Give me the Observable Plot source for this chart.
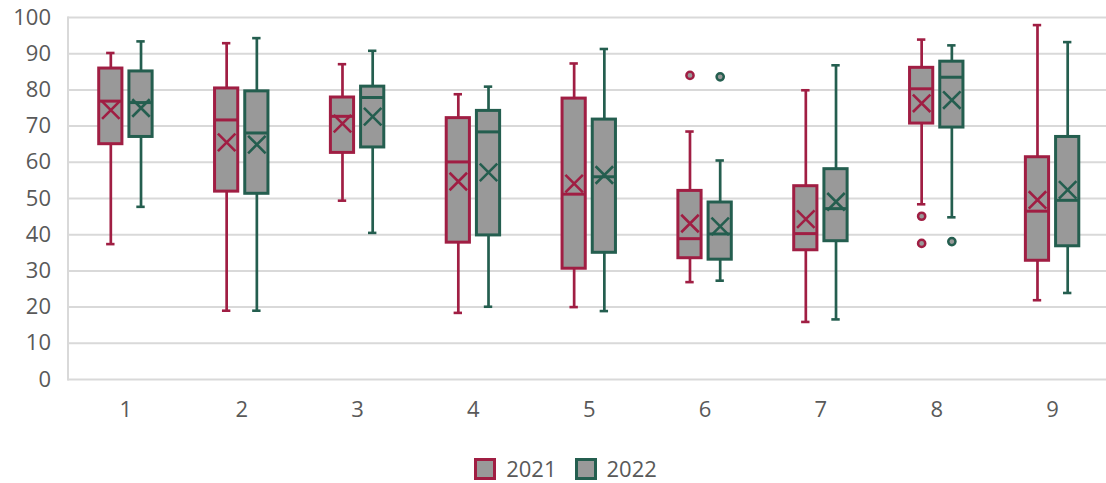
<!DOCTYPE html>
<html><head><meta charset="utf-8">
<script src="https://cdn.jsdelivr.net/npm/d3@7"></script>
<script src="https://cdn.jsdelivr.net/npm/@observablehq/plot@0.6"></script>
<style>
body{margin:0;background:#fff;font-family:"Open Sans",sans-serif;overflow:hidden}
#chart svg{display:block}
.legend{display:flex;justify-content:center;align-items:center;margin-top:17px;padding-left:25px;font-size:22px;color:#595959;height:23px;line-height:23px}
.item{display:flex;align-items:center;margin:0 9px}
.sw{width:22px;height:22px;box-sizing:border-box;border:3px solid;background:#999;margin-right:10px}
</style></head><body>
<div id="chart"></div>
<div class="legend" id="legend"></div>
<script>
const categories = ["1","2","3","4","5","6","7","8","9"];
const seriesNames = ["2021","2022"];
const yTicks = [0,10,20,30,40,50,60,70,80,90,100];

const min2021    = [37.4, 19.0, 49.4, 18.4, 20.0, 26.9, 15.9, 48.4, 21.9];
const q1_2021    = [65.0, 51.9, 62.6, 37.8, 30.6, 33.5, 35.7, 70.7, 32.8];
const median2021 = [76.9, 71.7, 72.7, 60.1, 51.2, 38.9, 40.3, 80.3, 46.5];
const q3_2021    = [85.9, 80.4, 77.9, 72.2, 77.6, 52.1, 53.4, 86.1, 61.4];
const max2021    = [90.2, 92.9, 87.1, 78.8, 87.3, 68.5, 79.9, 93.9, 97.9];
const mean2021   = [74.4, 65.5, 70.7, 54.7, 54.1, 43.1, 44.3, 76.3, 49.6];
const outlierCat2021 = ["6","8","8"];
const outlierVal2021 = [84.0, 45.1, 37.6];

const min2022    = [47.7, 19.0, 40.5, 20.1, 18.9, 27.3, 16.6, 44.8, 23.9];
const q1_2022    = [67.0, 51.3, 64.1, 39.8, 35.0, 33.1, 38.2, 69.6, 36.8];
const median2022 = [76.5, 68.1, 77.9, 68.4, 56.0, 40.2, 47.2, 83.5, 49.5];
const q3_2022    = [85.1, 79.6, 80.9, 74.2, 71.8, 48.9, 58.1, 87.8, 67.0];
const max2022    = [93.4, 94.3, 90.8, 80.9, 91.3, 60.5, 86.8, 92.3, 93.2];
const mean2022   = [75.0, 64.9, 72.6, 57.2, 56.5, 42.3, 49.1, 77.2, 52.4];
const outlierCat2022 = ["6","8"];
const outlierVal2022 = [83.6, 38.1];

const colors = {"2021": "#A01E43", "2022": "#245E4F"};
const boxFill = "#999999";

function rowsOf(mins, q1s, meds, q3s, maxs, means) {
  return categories.map((cat, i) => ({cat, min: mins[i], q1: q1s[i], median: meds[i], q3: q3s[i], max: maxs[i], mean: means[i]}));
}
const rows2021 = rowsOf(min2021, q1_2021, median2021, q3_2021, max2021, mean2021);
const rows2022 = rowsOf(min2022, q1_2022, median2022, q3_2022, max2022, mean2022);
const out2021 = outlierCat2021.map((cat, i) => ({cat, value: outlierVal2021[i]}));
const out2022 = outlierCat2022.map((cat, i) => ({cat, value: outlierVal2022[i]}));

const W = 1106, ML = 67.5, MR = -4;
const bw = (W - MR - ML) / categories.length;

function seriesMarks(rows, outliers, color, side) {
  const off = 15.1, half = 11.6, cap = 4.2;
  const bL = bw/2 + side*off - half, bR = bw/2 - side*off - half;
  const cL = bw/2 + side*off - cap, cR = bw/2 - side*off - cap;
  return [
    Plot.ruleX(rows, {x: "cat", y1: "min", y2: "max", dx: side*off, stroke: color, strokeWidth: 2.7}),
    Plot.tickY(rows, {x: "cat", y: "min", insetLeft: cL, insetRight: cR, stroke: color, strokeWidth: 2.6}),
    Plot.tickY(rows, {x: "cat", y: "max", insetLeft: cL, insetRight: cR, stroke: color, strokeWidth: 2.6}),
    Plot.barY(rows, {x: "cat", y1: "q1", y2: "q3", insetLeft: bL, insetRight: bR, fill: boxFill, stroke: color, strokeWidth: 3}),
    Plot.tickY(rows, {x: "cat", y: "median", insetLeft: bL, insetRight: bR, stroke: color, strokeWidth: 3}),
    Plot.dot(rows, {x: "cat", y: "mean", dx: side*off, symbol: "times", r: 8, stroke: color, strokeWidth: 2.6}),
    Plot.dot(outliers, {x: "cat", y: "value", dx: side*off, r: 3.6, fill: boxFill, stroke: color, strokeWidth: 2.5})
  ];
}

const chart = Plot.plot({
  width: W,
  height: 440,
  marginLeft: ML,
  marginRight: MR,
  marginTop: 17,
  marginBottom: 61,
  style: {fontFamily: "'Open Sans', sans-serif", fontSize: "22px", color: "#595959", background: "#fff", overflow: "hidden"},
  x: {domain: categories, padding: 0, round: false},
  y: {domain: [0, 100]},
  marks: [
    Plot.gridY(yTicks, {stroke: "#d9d9d9", strokeOpacity: 1, strokeWidth: 2}),
    Plot.frame({anchor: "left", stroke: "#d9d9d9", strokeWidth: 2}),
    Plot.axisY(yTicks, {tickSize: 0, tickPadding: 17, fontSize: 22, fill: "#595959", label: null}),
    Plot.axisX({tickSize: 0, tickPadding: 22, fontSize: 22, fill: "#595959", label: null}),
    ...seriesMarks(rows2021, out2021, colors["2021"], -1),
    ...seriesMarks(rows2022, out2022, colors["2022"], 1)
  ]
});
document.getElementById("chart").appendChild(chart);

const legend = document.getElementById("legend");
for (const s of seriesNames) {
  const item = document.createElement("div");
  item.className = "item";
  const sw = document.createElement("div");
  sw.className = "sw";
  sw.style.borderColor = colors[s];
  const t = document.createElement("span");
  t.textContent = s;
  item.appendChild(sw); item.appendChild(t);
  legend.appendChild(item);
}
</script>
</body></html>
